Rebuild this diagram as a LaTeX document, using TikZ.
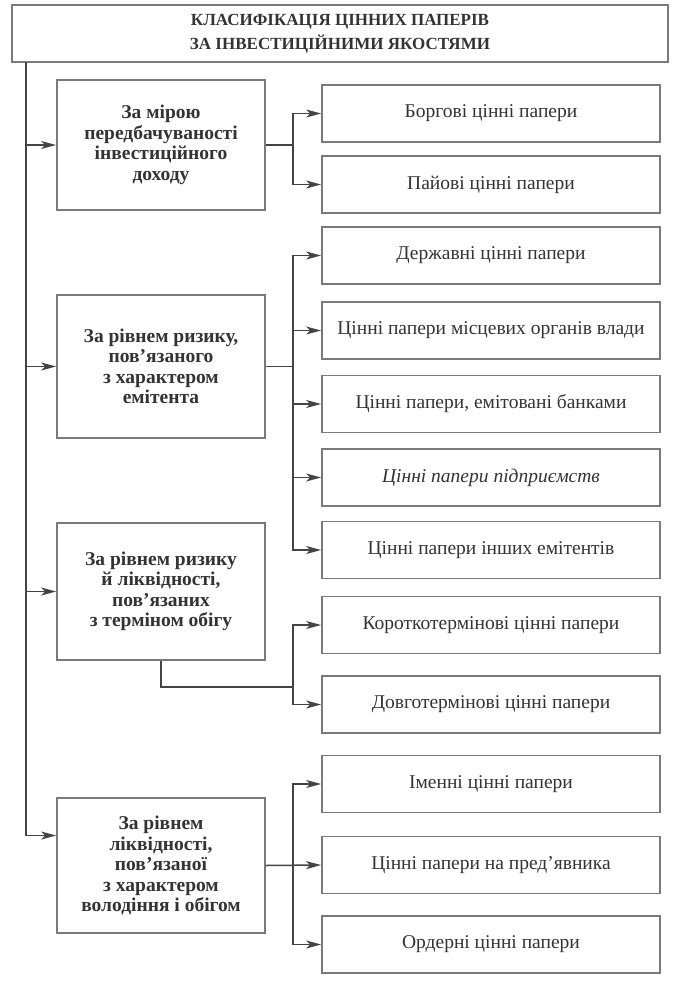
\documentclass[tikz,border=0pt]{standalone}
\usepackage{fontspec}
\setmainfont{Liberation Serif}
\usetikzlibrary{arrows.meta}
\definecolor{ink}{HTML}{333333}
\definecolor{boxline}{HTML}{7A7A7A}
\definecolor{connline}{HTML}{444444}
\begin{document}
\begin{tikzpicture}[x=1pt,y=-1pt,
  titlebox/.style={draw=boxline,line width=1.8pt,minimum width=656pt,minimum height=57pt,inner sep=0pt,align=center,text=ink,font=\bfseries\fontsize{17}{24}\selectfont},
  leftbox/.style={draw=boxline,line width=1.8pt,minimum width=208pt,inner sep=0pt,align=center,text=ink,font=\bfseries\fontsize{19.5}{20.5}\selectfont},
  rightbox/.style={draw=boxline,line width=1.8pt,minimum width=338pt,minimum height=57pt,inner sep=0pt,align=center,text=ink,font=\fontsize{19.5}{21}\selectfont},
  conn/.style={draw=connline,line width=1.5pt},
  arr/.style={conn,-{Stealth[length=15pt,width=8pt,inset=4pt]}}]
\useasboundingbox (0,0) rectangle (677,985);
\fill[white] (0,0) rectangle (677,985);
\node[titlebox] (title) at (340,33.5) {КЛАСИФІКАЦІЯ ЦІННИХ ПАПЕРІВ\\ЗА ІНВЕСТИЦІЙНИМИ ЯКОСТЯМИ};
% left boxes
\node[leftbox,minimum height=130pt] (L1) at (161,145) {За мірою\\передбачуваності\\інвестиційного\\доходу};
\node[leftbox,minimum height=143pt] (L2) at (161,366.5) {За рівнем ризику,\\пов’язаного\\з характером\\емітента};
\node[leftbox,minimum height=137pt] (L3) at (161,591.5) {За рівнем ризику\\й ліквідності,\\пов’язаних\\з терміном обігу};
\node[leftbox,minimum height=135pt] (L4) at (161,865.5) {За рівнем\\ліквідності,\\пов’язаної\\з характером\\володіння і обігом};
% right boxes
\node[rightbox] (R1) at (491,113.5) {Боргові цінні папери};
\node[rightbox] (R2) at (491,184.5) {Пайові цінні папери};
\node[rightbox] (R3) at (491,255.5) {Державні цінні папери};
\node[rightbox] (R4) at (491,330.5) {Цінні папери місцевих органів влади};
\node[rightbox] (R5) at (491,404) {Цінні папери, емітовані банками};
\node[rightbox] (R6) at (491,477.5) {\itshape Цінні папери підприємств};
\node[rightbox] (R7) at (491,550) {Цінні папери інших емітентів};
\node[rightbox] (R8) at (491,625) {Короткотермінові цінні папери};
\node[rightbox] (R9) at (491,704.5) {Довготермінові цінні папери};
\node[rightbox] (R10) at (491,784) {Іменні цінні папери};
\node[rightbox] (R11) at (491,865) {Цінні папери на пред’явника};
\node[rightbox] (R12) at (491,944.5) {Ордерні цінні папери};
% helper coordinates
\coordinate (trunktop) at (26,62);
\coordinate (bx) at (293,0);
\coordinate (j3) at (293,687);
% trunk
\draw[arr] (trunktop) |- ([yshift=30pt]L4.west);
\draw[arr] (trunktop |- L1.west) -- (L1.west);
\draw[arr] (trunktop |- L2.west) -- (L2.west);
\draw[arr] (trunktop |- L3.west) -- (L3.west);
% group 1
\draw[conn] (L1.east) -- (L1.east -| bx);
\draw[arr] (L1.east -| bx) |- (R1.west);
\draw[arr] (L1.east -| bx) |- (R2.west);
% group 2
\draw[conn] (L2.east) -- (L2.east -| bx);
\draw[arr] (L2.east -| bx) |- (R3.west);
\draw[arr] (L2.east -| bx) |- (R7.west);
\draw[arr] (R4.west -| bx) -- (R4.west);
\draw[arr] (R5.west -| bx) -- (R5.west);
\draw[arr] (R6.west -| bx) -- (R6.west);
% group 3
\draw[conn] (L3.south) |- (j3);
\draw[arr] (j3) |- (R8.west);
\draw[arr] (j3) |- (R9.west);
% group 4
\draw[arr] (L4.east) -- (R11.west);
\draw[arr] (L4.east -| bx) |- (R10.west);
\draw[arr] (L4.east -| bx) |- (R12.west);
\end{tikzpicture}
\end{document}
